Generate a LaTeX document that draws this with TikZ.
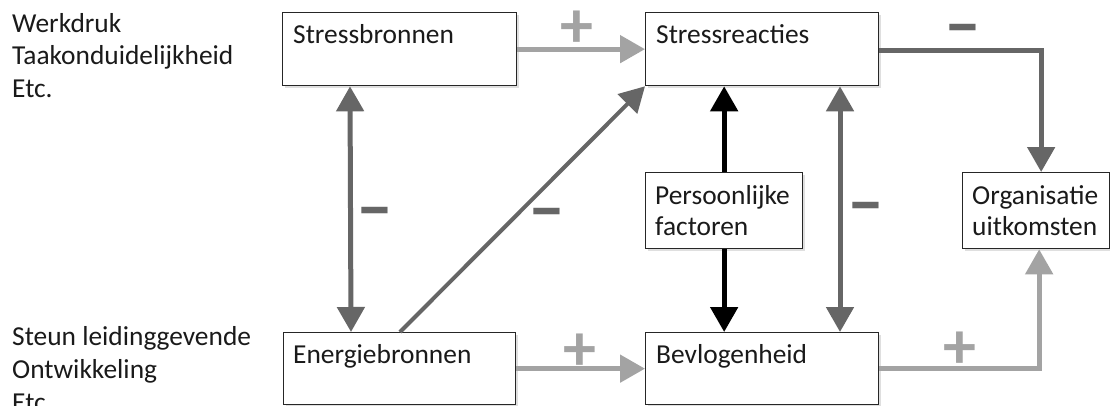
\documentclass[tikz,border=0pt]{standalone}
\usepackage{fontspec}
\setmainfont{Carlito}
\usetikzlibrary{arrows.meta,calc,shadows}
\definecolor{lg}{HTML}{A3A3A3}
\definecolor{dg}{HTML}{666666}
\definecolor{tx}{HTML}{1A1A1A}
\tikzset{
  box/.style={draw=black!85, line width=1.3pt, fill=white, inner sep=0pt, anchor=north west,
    drop shadow={shadow xshift=2pt, shadow yshift=-2pt, opacity=0.25}},
  btxt/.style={anchor=base west, inner sep=0pt, text=tx, font=\fontsize{27.4}{31}\selectfont, align=left},
  ltxt/.style={anchor=base west, inner sep=0pt, text=tx, font=\fontsize{27.4}{33}\selectfont},
  tip/.style={-{Triangle[width=27pt,length=25pt]}},
  dtip/.style={{Triangle[width=27pt,length=25pt]}-{Triangle[width=27pt,length=25pt]}},
  light/.style={draw=lg, line width=5pt},
  dark/.style={draw=dg, line width=5pt},
  blk/.style={draw=black, line width=5pt},
  sgn/.style={inner sep=0pt, text height=0.45em, text depth=0.15em, yshift=-22pt},
  plus/.style={sgn, text=lg, font=\fontsize{66}{66}\selectfont\bfseries},
  minus/.style={sgn, text=dg, font=\fontsize{74}{74}\selectfont\bfseries},
}
\begin{document}
\begin{tikzpicture}[x=1pt,y=-1pt]
\clip (0,0) rectangle (1110,405);
\useasboundingbox (0,0) rectangle (1110,405);
\fill[white] (0,0) rectangle (1110,405);

% boxes
\node[box, minimum width=234pt, minimum height=73pt] (sb) at (282,12) {};
\node[box, minimum width=233pt, minimum height=73pt] (sr) at (645,12) {};
\node[box, minimum width=157pt, minimum height=76pt] (pf) at (645,172) {};
\node[box, minimum width=147pt, minimum height=76pt] (org) at (962,172) {};
\node[box, minimum width=232pt, minimum height=72pt] (eb) at (283,332) {};
\node[box, minimum width=233pt, minimum height=72pt] (bev) at (645,332) {};

\node[btxt] (sbt) at ($(sb.north west)+(11,31)$) {Stressbronnen};
\node[btxt] (srt) at ($(sr.north west)+(11,31)$) {Stressreacties};
\node[btxt] (pft) at ($(pf.north west)+(10,63)$) {Persoonlijke\\factoren};
\node[btxt] (orgt) at ($(org.north west)+(10,63)$) {Organisatie\\uitkomsten};
\node[btxt] (ebt) at ($(eb.north west)+(10,31)$) {Energiebronnen};
\node[btxt] (bevt) at ($(bev.north west)+(11,31)$) {Bevlogenheid};

% side texts
\node[ltxt] (l1) at (12,32) {Werkdruk};
\node[ltxt] (l2) at (12,64) {Taakonduidelijkheid};
\node[ltxt] (l3) at (12,97) {Etc.};
\node[ltxt] (l4) at (12,345) {Steun leidinggevende};
\node[ltxt] (l5) at (12,378) {Ontwikkeling};
\node[ltxt] (l6) at (12,411) {Etc.};

% connectors
\draw[light, tip] (sb.east) -- (sr.west);
\draw[dark, tip] ([yshift=-1.5pt]sr.east) -| ([xshift=5pt]org.north);
\draw[dark, dtip] ([xshift=68pt]sb.south west) -- ([xshift=68pt]eb.north west);
\draw[dg, line width=4pt, tip] ([xshift=117pt]eb.north west) -- (sr.south west);
\draw[blk, tip] (pf.north) -- (pf.north |- sr.south);
\draw[blk, tip] (pf.south) -- (pf.south |- bev.north);
\draw[dark, dtip] ([xshift=195pt]bev.north west) -- ([xshift=195pt]sr.south west);
\draw[light, tip] (eb.east) -- (bev.west);
\draw[light, tip] (bev.east) -| ([xshift=3pt]org.south);

% signs
\node[plus] (p1) at (577,24) {+};
\node[minus] (m1) at (963,25) {–};
\node[minus] (m2) at (375,208) {–};
\node[minus] (m3) at (547,209) {–};
\node[minus] (m4) at (866,203) {–};
\node[plus] (p2) at (580,347) {+};
\node[plus] (p3) at (960,345) {+};
\end{tikzpicture}
\end{document}
